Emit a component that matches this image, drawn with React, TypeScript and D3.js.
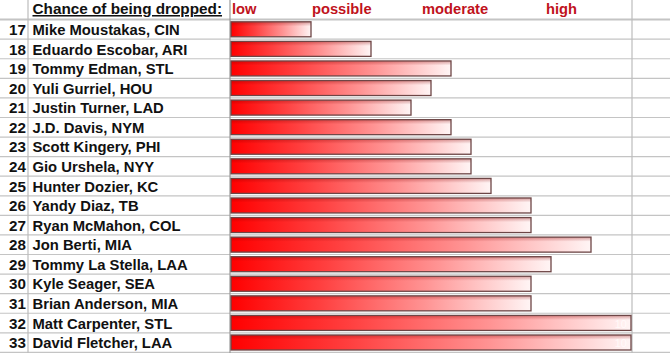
import { useEffect } from "react";
import * as d3 from "d3";

const RANKS = [17, 18, 19, 20, 21, 22, 23, 24, 25, 26, 27, 28, 29, 30, 31, 32, 33];
const PLAYERS = [
  "Mike Moustakas, CIN",
  "Eduardo Escobar, ARI",
  "Tommy Edman, STL",
  "Yuli Gurriel, HOU",
  "Justin Turner, LAD",
  "J.D. Davis, NYM",
  "Scott Kingery, PHI",
  "Gio Urshela, NYY",
  "Hunter Dozier, KC",
  "Yandy Diaz, TB",
  "Ryan McMahon, COL",
  "Jon Berti, MIA",
  "Tommy La Stella, LAA",
  "Kyle Seager, SEA",
  "Brian Anderson, MIA",
  "Matt Carpenter, STL",
  "David Fletcher, LAA",
];
// chance of being dropped, on a 0-20 scale
const DROP_CHANCE = [4, 7, 11, 10, 9, 11, 12, 12, 13, 15, 15, 18, 16, 15, 15, 20, 20];
const LEVELS = ["low", "possible", "moderate", "high"];
const LEVEL_AT = [0, 4, 9.5, 15.7];

const W = 670;
const H = 353;
const HEADER = 19.6;
const FONT = "'Liberation Sans', Arial, sans-serif";

export default function App() {
  useEffect(() => {
    document.body.style.margin = "0";
  }, []);

  const y = d3
    .scaleBand<number>()
    .domain(RANKS)
    .range([HEADER, HEADER + RANKS.length * 19.575])
    .paddingInner(0)
    .paddingOuter(0);
  const x = d3.scaleLinear().domain([0, 20]).range([231, 631]);
  const rowH = y.bandwidth();
  const lines = [HEADER, ...RANKS.map((r) => (y(r) as number) + rowH)];

  return (
    <svg width={W} height={H} style={{ display: "block", background: "#fff" }} fontFamily={FONT}>
      <defs>
        <linearGradient id="barFill" x1="0" x2="1" y1="0" y2="0">
          <stop offset="0%" stopColor="#ff0000" />
          <stop offset="30%" stopColor="#ff4040" />
          <stop offset="65%" stopColor="#ff9494" />
          <stop offset="100%" stopColor="#fff5f5" />
        </linearGradient>
        <linearGradient id="barShade" x1="0" x2="0" y1="0" y2="1">
          <stop offset="0%" stopColor="#8a0000" stopOpacity={0.35} />
          <stop offset="30%" stopColor="#8a0000" stopOpacity={0} />
          <stop offset="100%" stopColor="#8a0000" stopOpacity={0} />
        </linearGradient>
      </defs>

      {/* sheet grid */}
      {lines.map((ly, i) => (
        <line key={"h" + i} x1={0} x2={W} y1={ly} y2={ly} stroke="#c4c4c4" strokeWidth={i === 0 ? 2 : 1.2} />
      ))}
      {[28, 230, 632].map((lx) => (
        <line key={"v" + lx} x1={lx} x2={lx} y1={0} y2={H} stroke={lx === 230 ? "#9a9a9a" : "#bdbdbd"} strokeWidth={1.2} />
      ))}

      {/* header */}
      <text x={32.5} y={14} fontSize={15.3} fontWeight="bold" fill="#111" textDecoration="underline">
        Chance of being dropped:
      </text>
      {LEVELS.map((l, i) => (
        <text key={l} x={x(LEVEL_AT[i]) + 1} y={14} fontSize={14.7} fontWeight="bold" fill="#c0121c">
          {l}
        </text>
      ))}

      {/* rows */}
      {RANKS.map((r, i) => {
        const top = y(r) as number;
        const bx = x(0);
        const bw = x(DROP_CHANCE[i]) - x(0);
        return (
          <g key={r}>
            <text x={26} y={top + 15.4} fontSize={15.2} fontWeight="bold" textAnchor="end" fill="#111">
              {r}
            </text>
            <text x={32.5} y={top + 15.4} fontSize={14.8} fontWeight="bold" fill="#111">
              {PLAYERS[i]}
            </text>
            <rect x={bx} y={top + 2.2} width={bw} height={15} fill="url(#barFill)" />
            <rect x={bx} y={top + 2.2} width={bw} height={15} fill="url(#barShade)" />
            <rect x={bx} y={top + 2.2} width={bw} height={15} fill="none" stroke="#6d4646" strokeWidth={1.3} />
            {DROP_CHANCE[i] === 20 && (
              <text x={bx + bw - 4} y={top + 14.5} fontSize={11} textAnchor="end" fill="#fff" opacity={0.7}>
                10
              </text>
            )}
          </g>
        );
      })}
    </svg>
  );
}
